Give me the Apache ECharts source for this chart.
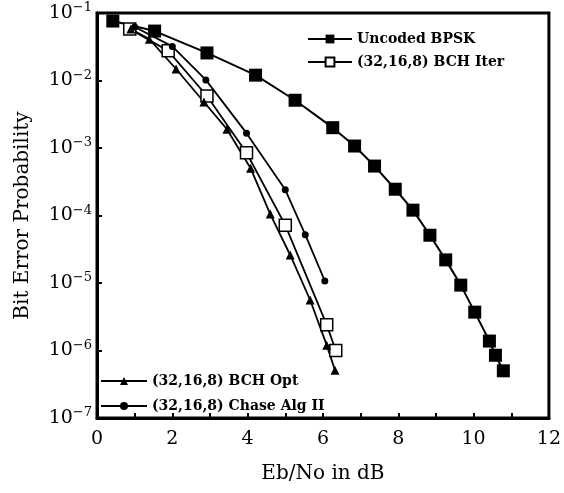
<!DOCTYPE html>
<html>
<head>
<meta charset="utf-8">
<script src="https://cdn.jsdelivr.net/npm/echarts@6/dist/echarts.min.js"></script>
<style>
  html, body { margin: 0; padding: 0; background: #fff; }
  #main { width: 564px; height: 493px; }
</style>
</head>
<body>
<div id="main"></div>
<script>
// values (Eb/No in dB, bit error probability)
var uncodedX = [0.42, 1.53, 2.92, 4.21, 5.26, 6.26, 6.84, 7.37, 7.92, 8.39, 8.84, 9.26, 9.66, 10.03, 10.42, 10.58, 10.79];
var uncodedY = [0.076, 0.054, 0.0256, 0.012, 0.0051, 0.0020, 0.00107, 5.4e-4, 2.45e-4, 1.2e-4, 5.1e-5, 2.2e-5, 9.3e-6, 3.7e-6, 1.38e-6, 8.5e-7, 5.0e-7];

var iterX = [0.87, 1.89, 2.92, 3.97, 5.0, 6.1, 6.34];
var iterY = [0.058, 0.0275, 0.0059, 8.5e-4, 7.2e-5, 2.4e-6, 1.0e-6];

var optX = [0.9, 1.39, 2.1, 2.84, 3.45, 4.08, 4.6, 5.13, 5.66, 6.1, 6.32];
var optY = [0.058, 0.041, 0.0148, 0.0048, 0.0019, 5.0e-4, 1.05e-4, 2.6e-5, 5.6e-6, 1.2e-6, 5.1e-7];

var chaseX = [1.0, 2.0, 2.89, 3.97, 5.0, 5.53, 6.05];
var chaseY = [0.062, 0.032, 0.0102, 0.00166, 2.4e-4, 5.2e-5, 1.07e-5];

var seriesNames = ['Uncoded BPSK', '(32,16,8) BCH Iter', '(32,16,8) BCH Opt', '(32,16,8) Chase Alg II'];
var xTicks = [0, 2, 4, 6, 8, 10, 12];

function pairs(xs, ys) {
  return xs.map(function (x, i) { return [x, ys[i]]; });
}

var chartDom = document.getElementById('main');
var myChart = echarts.init(chartDom);
var font = 'DejaVu Serif';

var option = {
  animation: false,
  backgroundColor: '#fff',
  grid: {
    left: 97, right: 11, top: 13, bottom: 75,
    show: true, borderColor: '#000', borderWidth: 3
  },
  legend: [
    {
      data: [seriesNames[0], seriesNames[1]],
      orient: 'vertical',
      left: 302, top: 27,
      itemWidth: 44, itemHeight: 11, itemGap: 9,
      textStyle: { fontFamily: font, fontWeight: 'bold', fontSize: 14, color: '#000' }
    },
    {
      data: [seriesNames[2], seriesNames[3]],
      orient: 'vertical',
      left: 95, top: 369,
      itemWidth: 46, itemHeight: 10, itemGap: 11,
      textStyle: { fontFamily: font, fontWeight: 'bold', fontSize: 14, color: '#000' }
    }
  ],
  xAxis: {
    type: 'value',
    min: 0, max: 12, interval: 1,
    name: 'Eb/No in dB',
    nameLocation: 'middle',
    nameGap: 46,
    nameTextStyle: { fontFamily: font, fontSize: 20, color: '#000' },
    axisLine: { lineStyle: { color: '#000', width: 3 } },
    axisTick: { inside: true, length: 5, lineStyle: { color: '#000', width: 2 } },
    axisLabel: {
      fontFamily: font, fontSize: 19, color: '#000', margin: 12,
      formatter: function (v) { return xTicks.indexOf(v) >= 0 ? String(v) : ''; }
    },
    splitLine: { show: false }
  },
  yAxis: {
    type: 'log',
    logBase: 10,
    min: 1e-7, max: 1e-1,
    name: 'Bit Error Probability',
    nameLocation: 'middle',
    nameGap: 64,
    nameTextStyle: { fontFamily: font, fontSize: 20, color: '#000' },
    axisLine: { lineStyle: { color: '#000', width: 3 } },
    axisTick: { inside: true, length: 5, lineStyle: { color: '#000', width: 2 } },
    axisLabel: {
      margin: 5,
      formatter: function (v) {
        var e = Math.round(Math.log10(v));
        return '{b|10}{s|\u2212' + (-e) + '}';
      },
      rich: {
        b: { fontFamily: font, fontSize: 19, color: '#000' },
        s: { fontFamily: font, fontSize: 13, color: '#000', verticalAlign: 'top', padding: [0, 0, 10, 0] }
      }
    },
    splitLine: { show: false }
  },
  series: [
    {
      name: seriesNames[0], type: 'line',
      data: pairs(uncodedX, uncodedY),
      symbol: 'rect', symbolSize: 13,
      itemStyle: { color: '#000' },
      lineStyle: { color: '#000', width: 2 }
    },
    {
      name: seriesNames[1], type: 'line',
      data: pairs(iterX, iterY),
      symbol: 'rect', symbolSize: 12,
      itemStyle: { color: '#fff', borderColor: '#000', borderWidth: 1.5 },
      lineStyle: { color: '#000', width: 1.8 }
    },
    {
      name: seriesNames[2], type: 'line',
      data: pairs(optX, optY),
      symbol: 'triangle', symbolSize: 9,
      itemStyle: { color: '#000' },
      lineStyle: { color: '#000', width: 1.8 }
    },
    {
      name: seriesNames[3], type: 'line',
      data: pairs(chaseX, chaseY),
      symbol: 'circle', symbolSize: 7,
      itemStyle: { color: '#000' },
      lineStyle: { color: '#000', width: 1.8 }
    }
  ]
};

option && myChart.setOption(option);
</script>
</body>
</html>
